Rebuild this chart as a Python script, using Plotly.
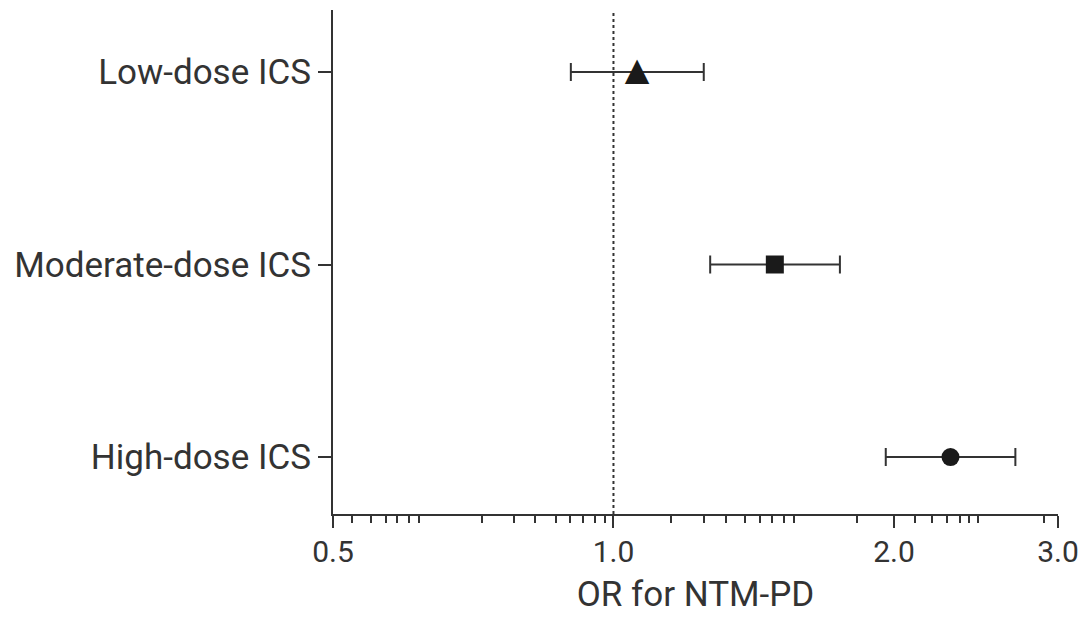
import math
import plotly.graph_objects as go

# ---- data ----
categories = ["Low-dose ICS", "Moderate-dose ICS", "High-dose ICS"]
or_values = [1.06, 1.49, 2.30]
ci_lower = [0.90, 1.27, 1.96]
ci_upper = [1.25, 1.75, 2.70]
y_positions = [2, 1, 0]
x_tick_values = [0.5, 1.0, 2.0, 3.0]
x_tick_labels = ["0.5", "1.0", "2.0", "3.0"]
x_minor_ticks = [0.524, 0.549, 0.570, 0.586, 0.603, 0.618,
                 0.723, 0.782, 0.824, 0.868, 0.898, 0.928, 0.956, 0.980,
                 1.152, 1.250, 1.320, 1.383, 1.438, 1.480, 1.523, 1.561,
                 1.826, 2.107, 2.195, 2.282, 2.355, 2.408, 2.464, 2.900]
reference_value = 1.0
x_title = "OR for NTM-PD"

INK = "#333333"
MARK = "#1a1a1a"
FONT = "Roboto"

err_plus = [u - v for u, v in zip(ci_upper, or_values)]
err_minus = [v - l for v, l in zip(or_values, ci_lower)]

fig = go.Figure()

# error bars + square / circle markers
fig.add_trace(go.Scatter(
    x=or_values, y=y_positions, mode="markers",
    marker=dict(symbol=["triangle-up", "square", "circle"], size=[0, 18, 18],
                color=MARK, opacity=1, line=dict(width=0)),
    error_x=dict(type="data", symmetric=False, array=err_plus, arrayminus=err_minus,
                 color=INK, thickness=2, width=9),
    showlegend=False, hoverinfo="skip",
))

# triangle marker drawn as glyph (equilateral shape)
fig.add_trace(go.Scatter(
    x=[or_values[0]], y=[y_positions[0]], mode="text", text=["▲"],
    textposition="middle center",
    textfont=dict(family="DejaVu Sans", size=32, color=MARK),
    showlegend=False, hoverinfo="skip",
))

fig.add_shape(type="line", xref="x", yref="paper", x0=reference_value, x1=reference_value,
              y0=0, y1=1, line=dict(color=INK, width=2, dash="dot"), layer="below")

fig.update_layout(
    width=1081, height=610,
    margin=dict(l=325, r=31, t=2, b=104),
    paper_bgcolor="white", plot_bgcolor="white",
    font=dict(family=FONT, color=INK, size=32),
    xaxis=dict(
        type="log", range=[math.log10(0.5), math.log10(3.0)],
        tickmode="array", tickvals=x_tick_values, ticktext=x_tick_labels,
        ticks="outside", ticklen=12, tickwidth=2, tickcolor=INK,
        showline=True, linecolor=INK, linewidth=2, showgrid=False, zeroline=False,
        tickfont=dict(size=30, color=INK, family=FONT),
        ticklabelstandoff=-2,
        minor=dict(tickmode="array", tickvals=x_minor_ticks, ticks="outside",
                   ticklen=7, tickwidth=2, tickcolor=INK, showgrid=False),
        title=dict(text=x_title, font=dict(size=35, color=INK, family=FONT), standoff=13),
    ),
    yaxis=dict(
        range=[-0.296, 2.322],
        tickmode="array", tickvals=y_positions, ticktext=categories,
        ticks="outside", ticklen=13, tickwidth=2, tickcolor=INK,
        showline=True, linecolor=INK, linewidth=2, showgrid=False, zeroline=False,
        tickfont=dict(size=35, color=INK, family=FONT),
        ticklabelstandoff=0,
    ),
)

fig.write_html("out.html")
